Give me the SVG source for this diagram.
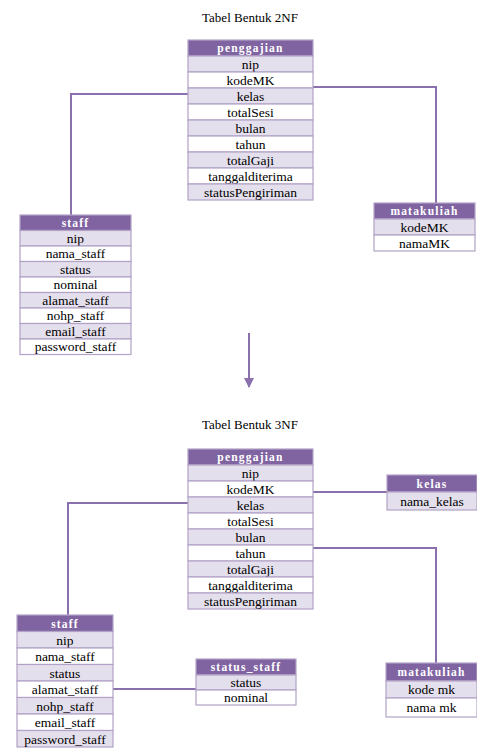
<svg xmlns="http://www.w3.org/2000/svg" width="477" height="753" viewBox="0 0 477 753">
<style>
.bg{fill:#ffffff}
.hd{fill:#8064a2;stroke:#b3a2c7;stroke-width:1.2}
.ra{fill:#e4dfec;stroke:#b3a2c7;stroke-width:1.2}
.rb{fill:#ffffff;stroke:#b3a2c7;stroke-width:1.2}
.ht{font-family:"Liberation Serif",serif;font-size:11.5px;font-weight:bold;fill:#ffffff;text-anchor:middle;letter-spacing:1.2px}
.tt{font-family:"Liberation Serif",serif;font-size:13.5px;fill:#000000;text-anchor:middle}
.ti{font-family:"Liberation Serif",serif;font-size:13px;fill:#000000;text-anchor:middle}
.cn{fill:none;stroke:#8a70ad;stroke-width:2}
</style>
<defs>
<marker id="ah" viewBox="0 0 10 10" refX="9" refY="5" markerWidth="5" markerHeight="5" orient="auto" markerUnits="strokeWidth">
<path d="M0,0 L10,5 L0,10 z" fill="#8a70ad"/>
</marker>
</defs>
<rect class="bg" x="0" y="0" width="477" height="753"/>

<text class="ti" x="250" y="22">Tabel Bentuk 2NF</text>
<text class="ti" x="250" y="429">Tabel Bentuk 3NF</text>

<g id="connectors">
<polyline class="cn" points="188,94 71,94 71,215"/>
<polyline class="cn" points="313,87 436,87 436,203"/>
<line class="cn" x1="249" y1="333" x2="249" y2="387" marker-end="url(#ah)"/>
<polyline class="cn" points="188,503 68,503 68,615"/>
<line class="cn" x1="313" y1="492" x2="387" y2="492"/>
<polyline class="cn" points="313,548 436,548 436,663"/>
<line class="cn" x1="113" y1="689" x2="196" y2="689"/>
</g>

<g id="penggajian_2nf">
<rect class="hd" x="188" y="40" width="125" height="16"/>
<text class="ht" x="250.5" y="52">penggajian</text>
<rect class="ra" x="188" y="56" width="125" height="16"/><text class="tt" x="250.5" y="68.5">nip</text>
<rect class="rb" x="188" y="72" width="125" height="16"/><text class="tt" x="250.5" y="84.5">kodeMK</text>
<rect class="ra" x="188" y="88" width="125" height="16"/><text class="tt" x="250.5" y="100.5">kelas</text>
<rect class="rb" x="188" y="104" width="125" height="16"/><text class="tt" x="250.5" y="116.5">totalSesi</text>
<rect class="ra" x="188" y="120" width="125" height="16"/><text class="tt" x="250.5" y="132.5">bulan</text>
<rect class="rb" x="188" y="136" width="125" height="16"/><text class="tt" x="250.5" y="148.5">tahun</text>
<rect class="ra" x="188" y="152" width="125" height="16"/><text class="tt" x="250.5" y="164.5">totalGaji</text>
<rect class="rb" x="188" y="168" width="125" height="16"/><text class="tt" x="250.5" y="180.5">tanggalditerima</text>
<rect class="ra" x="188" y="184" width="125" height="16"/><text class="tt" x="250.5" y="196.5">statusPengiriman</text>
</g>

<g id="staff_2nf">
<rect class="hd" x="20" y="215" width="111" height="15.5"/>
<text class="ht" x="75.5" y="226.5">staff</text>
<rect class="ra" x="20" y="230.5" width="111" height="15.5"/><text class="tt" x="75.5" y="242.5">nip</text>
<rect class="rb" x="20" y="246" width="111" height="15.5"/><text class="tt" x="75.5" y="258">nama_staff</text>
<rect class="ra" x="20" y="261.5" width="111" height="15.5"/><text class="tt" x="75.5" y="273.5">status</text>
<rect class="rb" x="20" y="277" width="111" height="15.5"/><text class="tt" x="75.5" y="289">nominal</text>
<rect class="ra" x="20" y="292.5" width="111" height="15.5"/><text class="tt" x="75.5" y="304.5">alamat_staff</text>
<rect class="rb" x="20" y="308" width="111" height="15.5"/><text class="tt" x="75.5" y="320">nohp_staff</text>
<rect class="ra" x="20" y="323.5" width="111" height="15.5"/><text class="tt" x="75.5" y="335.5">email_staff</text>
<rect class="rb" x="20" y="339" width="111" height="15.5"/><text class="tt" x="75.5" y="351">password_staff</text>
</g>

<g id="matakuliah_2nf">
<rect class="hd" x="374" y="203" width="101" height="16"/>
<text class="ht" x="424.5" y="215">matakuliah</text>
<rect class="ra" x="374" y="219" width="101" height="16"/><text class="tt" x="424.5" y="231.5">kodeMK</text>
<rect class="rb" x="374" y="235" width="101" height="16"/><text class="tt" x="424.5" y="247.5">namaMK</text>
</g>

<g id="penggajian_3nf">
<rect class="hd" x="188" y="449" width="125" height="16"/>
<text class="ht" x="250.5" y="461">penggajian</text>
<rect class="ra" x="188" y="465" width="125" height="16"/><text class="tt" x="250.5" y="477.5">nip</text>
<rect class="rb" x="188" y="481" width="125" height="16"/><text class="tt" x="250.5" y="493.5">kodeMK</text>
<rect class="ra" x="188" y="497" width="125" height="16"/><text class="tt" x="250.5" y="509.5">kelas</text>
<rect class="rb" x="188" y="513" width="125" height="16"/><text class="tt" x="250.5" y="525.5">totalSesi</text>
<rect class="ra" x="188" y="529" width="125" height="16"/><text class="tt" x="250.5" y="541.5">bulan</text>
<rect class="rb" x="188" y="545" width="125" height="16"/><text class="tt" x="250.5" y="557.5">tahun</text>
<rect class="ra" x="188" y="561" width="125" height="16"/><text class="tt" x="250.5" y="573.5">totalGaji</text>
<rect class="rb" x="188" y="577" width="125" height="16"/><text class="tt" x="250.5" y="589.5">tanggalditerima</text>
<rect class="ra" x="188" y="593" width="125" height="16"/><text class="tt" x="250.5" y="605.5">statusPengiriman</text>
</g>

<g id="kelas_3nf">
<rect class="hd" x="387" y="475" width="90" height="17"/>
<text class="ht" x="432" y="487.5">kelas</text>
<rect class="ra" x="387" y="492" width="90" height="18"/><text class="tt" x="432" y="505.5">nama_kelas</text>
</g>

<g id="matakuliah_3nf">
<rect class="hd" x="386" y="663" width="91" height="18"/>
<text class="ht" x="431.5" y="676">matakuliah</text>
<rect class="ra" x="386" y="681" width="91" height="17"/><text class="tt" x="431.5" y="694">kode mk</text>
<rect class="rb" x="386" y="698" width="91" height="19"/><text class="tt" x="431.5" y="712">nama mk</text>
</g>

<g id="staff_3nf">
<rect class="hd" x="17" y="615" width="96" height="16.5"/>
<text class="ht" x="65" y="627.5">staff</text>
<rect class="ra" x="17" y="631.5" width="96" height="16.5"/><text class="tt" x="65" y="644.5">nip</text>
<rect class="rb" x="17" y="648" width="96" height="16.5"/><text class="tt" x="65" y="661">nama_staff</text>
<rect class="ra" x="17" y="664.5" width="96" height="16.5"/><text class="tt" x="65" y="677.5">status</text>
<rect class="rb" x="17" y="681" width="96" height="16.5"/><text class="tt" x="65" y="694">alamat_staff</text>
<rect class="ra" x="17" y="697.5" width="96" height="16.5"/><text class="tt" x="65" y="710.5">nohp_staff</text>
<rect class="rb" x="17" y="714" width="96" height="16.5"/><text class="tt" x="65" y="727">email_staff</text>
<rect class="ra" x="17" y="730.5" width="96" height="16.5"/><text class="tt" x="65" y="743.5">password_staff</text>
</g>

<g id="status_staff_3nf">
<rect class="hd" x="196" y="659" width="100" height="16"/>
<text class="ht" x="246" y="671">status_staff</text>
<rect class="ra" x="196" y="675" width="100" height="15"/><text class="tt" x="246" y="687">status</text>
<rect class="rb" x="196" y="690" width="100" height="15"/><text class="tt" x="246" y="702">nominal</text>
</g>
</svg>
